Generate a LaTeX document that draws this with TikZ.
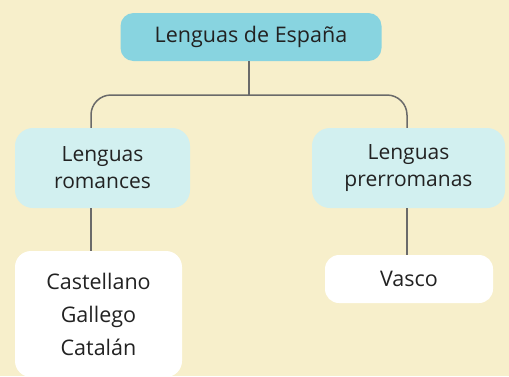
\documentclass[tikz,border=0pt]{standalone}
\usepackage{fontspec}
\setmainfont{Open Sans}
\definecolor{bgc}{HTML}{F7EFCB}
\definecolor{topc}{HTML}{88D4E0}
\definecolor{midc}{HTML}{D2F0F0}
\definecolor{linec}{HTML}{6A6A6A}
\definecolor{txtc}{HTML}{222222}
\tikzset{
  box/.style={rounded corners=#1, inner sep=0pt, align=center, text=txtc},
  conn/.style={draw=linec, line width=1.5pt},
}
\begin{document}
\begin{tikzpicture}[x=1pt,y=-1pt]
\fill[bgc] (0,0) rectangle (509,376);
\useasboundingbox (0,0) rectangle (509,376);
\node[box=13pt, fill=topc, minimum width=261pt, minimum height=48pt,
  font=\fontsize{21.5}{24}\selectfont] (top) at (251,37) {Lenguas de España};
\node[box=18pt, fill=midc, minimum width=175pt, minimum height=80pt,
  font=\fontsize{21}{27}\selectfont] (lm) at (102.5,168) {Lenguas\\romances};
\node[box=18pt, fill=midc, minimum width=193pt, minimum height=80pt,
  font=\fontsize{21}{27}\selectfont] (rm) at (408.5,168) {Lenguas\\prerromanas};
\node[box=16pt, fill=white, minimum width=167pt, minimum height=126pt,
  font=\fontsize{21.5}{33}\selectfont] (bl) at (98.5,314) {Castellano\\Gallego\\Catalán};
\node[box=14pt, fill=white, minimum width=168pt, minimum height=48pt,
  font=\fontsize{21.5}{24}\selectfont] (br) at (409,279) {Vasco};
\coordinate (jn) at (249,95);
\coordinate (lx) at (91,0);
\coordinate (rx) at (407,0);
\draw[conn] (top.south -| jn) -- (jn);
\draw[conn, rounded corners=20pt] (jn) -| (lm.north -| lx);
\draw[conn, rounded corners=20pt] (jn) -| (rm.north -| rx);
\draw[conn] (lm.south -| lx) -- (bl.north -| lx);
\draw[conn] (rm.south -| rx) -- (br.north -| rx);
\end{tikzpicture}
\end{document}
